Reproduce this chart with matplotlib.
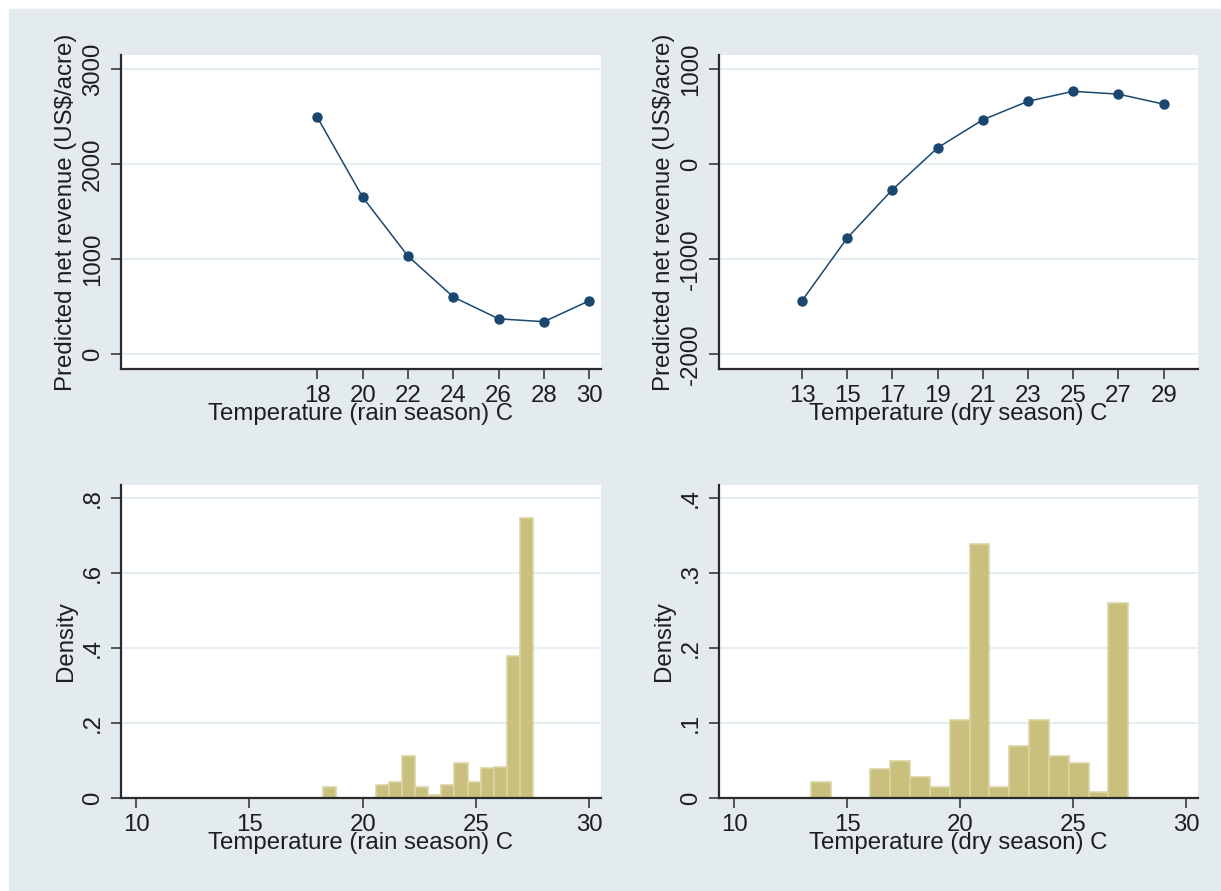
import matplotlib.pyplot as plt
import numpy as np
from matplotlib.patches import Rectangle

# predicted net revenue by temperature
rain_temp = [18, 20, 22, 24, 26, 28, 30]
rain_revenue = [2490, 1650, 1030, 600, 370, 340, 560]
dry_temp = [13, 15, 17, 19, 21, 23, 25, 27, 29]
dry_revenue = [-1440, -780, -270, 170, 465, 660, 765, 735, 630]

# histograms (density per bin)
rain_bin_start = 18.25
rain_bin_width = 0.58
rain_density = [0.029, 0, 0, 0, 0.036, 0.044, 0.113, 0.029, 0.009, 0.036,
                0.093, 0.044, 0.080, 0.084, 0.380, 0.747]
dry_bin_start = 13.40
dry_bin_width = 0.877
dry_density = [0.022, 0, 0, 0.039, 0.049, 0.028, 0.015, 0.104, 0.339, 0.015,
               0.070, 0.104, 0.056, 0.047, 0.008, 0.260]

rain_yticks = [0, 1000, 2000, 3000]
dry_yticks = [-2000, -1000, 0, 1000]
hist_xticks = [10, 15, 20, 25, 30]
rain_hist_yticks = [0, .2, .4, .6, .8]
rain_hist_ylabels = ['0', '.2', '.4', '.6', '.8']
dry_hist_yticks = [0, .1, .2, .3, .4]
dry_hist_ylabels = ['0', '.1', '.2', '.3', '.4']

BG = '#E4EBEE'
GRID = '#E6EEF2'
NAVY = '#1A476F'
KHAKI = '#C9C07E'
KHAKI_EDGE = '#DAD4A4'
AXC = '#2b2b2b'
FS = 17.3

plt.rcParams['font.family'] = ['Liberation Sans', 'DejaVu Sans']

W, H = 1221, 891
fig = plt.figure(figsize=(W / 100, H / 100), dpi=100, facecolor='white')
fig.patches.append(Rectangle((9 / W, 0), 1 - 9 / W, 1 - 9 / H,
                             transform=fig.transFigure, color=BG, zorder=-10))


def px_axes(x0, y0, x1, y1):
    return fig.add_axes([x0 / W, 1 - y1 / H, (x1 - x0) / W, (y1 - y0) / H])


def style(ax, ylim, yticks, ylabels, xlabel, ylabel):
    ax.set_facecolor('white')
    ax.set_xlim(9.33, 30.52)
    ax.set_ylim(ylim)
    for s in ['top', 'right']:
        ax.spines[s].set_visible(False)
    for s in ['left', 'bottom']:
        ax.spines[s].set_color(AXC)
        ax.spines[s].set_linewidth(1.6)
    ax.set_yticks(yticks)
    ax.set_yticklabels(ylabels, rotation=90, va='center')
    ax.tick_params(direction='out', length=7.2, width=1.1, color=AXC,
                   labelsize=FS, labelcolor='#1e1e1e')
    ax.tick_params(axis='x', pad=4)
    ax.tick_params(axis='y', pad=5)
    ax.grid(axis='y', color=GRID, linewidth=1.5)
    ax.set_axisbelow(True)
    ax.set_xlabel(xlabel, fontsize=FS, color='#1e1e1e')
    ax.xaxis.set_label_coords(0.5, -0.108)
    ax.set_ylabel(ylabel, fontsize=FS, color='#1e1e1e')
    ax.yaxis.set_label_coords(-0.092, 0.5)


ylab = 'Predicted net revenue (US$/acre)'

# top left
ax1 = px_axes(121, 55, 601, 369)
ax1.plot(rain_temp, rain_revenue, color=NAVY, lw=1.1, marker='o', ms=6.5)
ax1.set_xticks(rain_temp)
style(ax1, (-158, 3147), rain_yticks, [str(v) for v in rain_yticks],
      'Temperature (rain season) C', ylab)

# top right
ax2 = px_axes(719, 55, 1198, 369)
ax2.plot(dry_temp, dry_revenue, color=NAVY, lw=1.1, marker='o', ms=6.5)
ax2.set_xticks(dry_temp)
style(ax2, (-2158, 1147), dry_yticks, [str(v) for v in dry_yticks],
      'Temperature (dry season) C', ylab)

# bottom left
ax3 = px_axes(121, 485, 601, 798)
edges = rain_bin_start + rain_bin_width * np.arange(len(rain_density))
ax3.bar(edges, rain_density, width=rain_bin_width, align='edge',
        color=KHAKI, edgecolor=KHAKI_EDGE, linewidth=1.2)
ax3.set_xticks(hist_xticks)
style(ax3, (0, 0.8355), rain_hist_yticks, rain_hist_ylabels,
      'Temperature (rain season) C', 'Density')

# bottom right
ax4 = px_axes(719, 485, 1198, 798)
edges = dry_bin_start + dry_bin_width * np.arange(len(dry_density))
ax4.bar(edges, dry_density, width=dry_bin_width, align='edge',
        color=KHAKI, edgecolor=KHAKI_EDGE, linewidth=1.2)
ax4.set_xticks(hist_xticks)
style(ax4, (0, 0.4178), dry_hist_yticks, dry_hist_ylabels,
      'Temperature (dry season) C', 'Density')

fig.savefig('out.png', dpi=100, facecolor=fig.get_facecolor())
